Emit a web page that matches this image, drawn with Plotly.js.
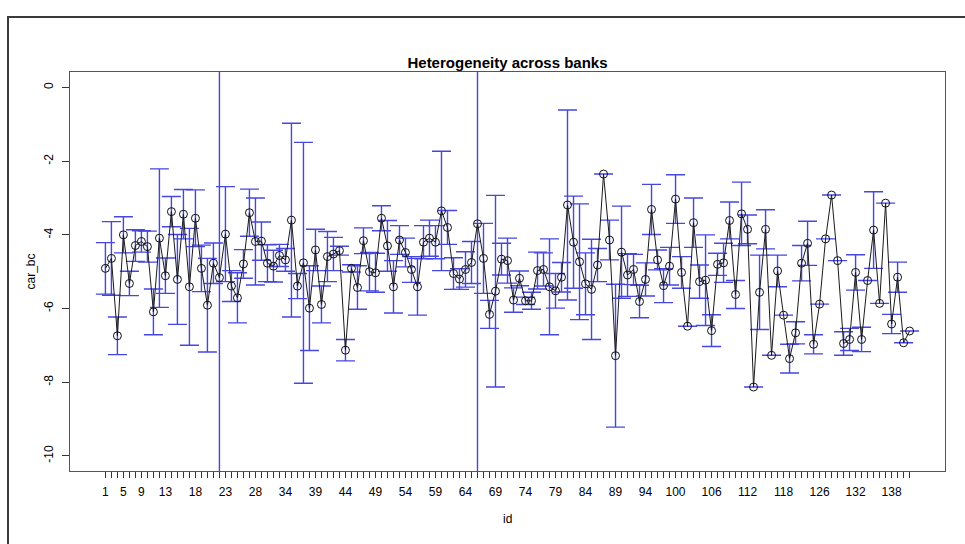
<!DOCTYPE html>
<html>
<head>
<meta charset="utf-8">
<script src="https://cdn.plot.ly/plotly-3.0.1.min.js"></script>
<style>
  html, body { margin: 0; padding: 0; background: #fff; }
  #chart { width: 965px; height: 544px; position: absolute; left: 0; top: 0; }
  #frame { position: absolute; left: 7px; top: 16px; width: 970px; height: 540px; border: 2px solid #3a3a3a; pointer-events: none; box-sizing: border-box; }
</style>
</head>
<body>
<div id="chart"></div>
<div id="frame"></div>
<script>
// bank ids (categories, in plotting order)
const ids = [1,2,3,5,6,7,9,
  10,11,12,13,14,15,16,17,18,19,20,21,22,23,24,25,26,27,28,
  29,30,32,33,34,
  35,36,37,38,39,40,41,42,43,44,45,46,47,48,49,50,51,52,53,54,55,56,57,58,59,60,
  61,62,63,64,65,66,67,68,69,70,71,72,73,74,75,76,77,78,79,80,81,82,83,84,85,86,87,88,89,90,91,92,93,94,
  95,96,98,99,100,
  101,102,103,104,105,106,107,108,109,110,111,112,113,114,115,116,117,118,
  119,120,122,124,125,126,
  127,128,129,130,131,132,133,134,135,136,137,138,139,140,141];

// group means of car_bc
const means = [
  -4.91,-4.64,-6.74,-4.00,-5.32,-4.29,-4.18,-4.32,-6.09,-4.09,
  -5.11,-3.37,-5.21,-3.44,-5.41,-3.55,-4.91,-5.91,-4.77,-5.16,
  -3.98,-5.39,-5.71,-4.79,-3.40,-4.18,-4.17,-4.77,-4.85,-4.56,
  -4.68,-3.60,-5.39,-4.76,-5.99,-4.41,-5.89,-4.59,-4.52,-4.43,
  -7.13,-4.91,-5.43,-4.16,-5.00,-5.03,-3.55,-4.30,-5.41,-4.14,
  -4.48,-4.94,-5.41,-4.20,-4.09,-4.20,-3.35,-3.80,-5.05,-5.20,
  -4.94,-4.75,-3.70,-4.64,-6.16,-5.53,-4.66,-4.70,-5.77,-5.18,
  -5.79,-5.79,-4.97,-4.94,-5.41,-5.52,-5.15,-3.19,-4.20,-4.73,
  -5.33,-5.48,-4.82,-2.35,-4.14,-7.28,-4.47,-5.09,-4.94,-5.81,
  -5.21,-3.31,-4.68,-5.38,-4.85,-3.03,-5.02,-6.48,-3.67,-5.27,
  -5.23,-6.60,-4.80,-4.76,-3.61,-5.62,-3.43,-3.85,-8.13,-5.56,
  -3.85,-7.27,-4.98,-6.18,-7.36,-6.66,-4.77,-4.23,-6.97,-5.88,
  -4.11,-2.92,-4.70,-6.95,-6.84,-5.02,-6.84,-5.24,-3.87,-5.86,
  -3.14,-6.42,-5.15,-6.93,-6.61];

// half-width of the 95% confidence interval (null = not drawn, 99 = unbounded)
const ciHalf = [
  0.70,1.00,0.51,0.49,0.33,0.43,0.29,0.42,0.62,1.88,
  0.48,0.41,1.22,0.67,1.585,0.77,0.63,1.27,0.55,99,
  1.29,0.42,0.68,0.39,0.64,1.18,0.52,0.50,0.43,0.30,
  0.31,2.63,0.34,3.27,1.15,0.56,0.50,0.68,0.45,0.12,
  0.29,0.10,0.59,0.35,0.52,0.53,0.34,0.69,0.71,0.39,
  0.39,0.35,0.77,0.45,0.49,0.45,1.62,0.46,0.43,0.28,
  0.48,0.57,99,0.95,0.38,2.60,0.43,0.61,0.33,0.20,
  0.10,0.23,0.50,0.45,1.30,0.47,0.40,2.58,1.25,1.57,
  0.84,1.36,0.45,null,0.54,1.94,1.25,0.58,0.41,0.44,
  0.45,0.68,0.27,0.46,0.51,0.66,0.43,null,0.67,0.45,
  1.23,0.43,0.30,0.53,0.50,0.38,0.86,0.39,null,1.01,
  0.53,null,0.43,null,0.39,0.30,0.48,0.60,0.26,null,
  null,null,null,0.32,0.30,0.48,0.33,null,1.04,null,
  null,0.26,0.41,null,null];

// x tick labels that R managed to fit
const shownLabels = [1,5,9,13,18,23,28,34,39,44,49,54,59,64,69,74,79,84,89,94,100,106,112,118,126,132,138];
const yTicks = [0,-2,-4,-6,-8,-10];

const cats = ids.map(String);
const tickText = ids.map(v => shownLabels.includes(v) ? String(v) : '');

const trace = {
  type: 'scatter',
  mode: 'lines+markers',
  x: cats,
  y: means,
  line: { color: '#1a1a1a', width: 1 },
  marker: { symbol: 'circle-open', size: 8, color: '#111', line: { width: 1, color: '#111' } },
  error_y: { type: 'data', array: ciHalf, visible: true, color: 'rgb(70,70,225)', thickness: 1.4, width: 9.5 },
  hoverinfo: 'x+y'
};

const font = 'Liberation Sans, Arial, Helvetica, sans-serif';

const layout = {
  width: 965, height: 544,
  margin: { l: 70, r: 20, t: 72, b: 73 },
  paper_bgcolor: '#fff', plot_bgcolor: '#fff',
  showlegend: false,
  font: { family: font, size: 12, color: '#000' },
  title: { text: '<b>Heterogeneity across banks</b>', x: 0.5, xref: 'paper', y: 1 - 63/544, yref: 'container', yanchor: 'middle', font: { family: font, size: 15, color: '#000' } },
  xaxis: {
    type: 'category',
    categoryorder: 'array', categoryarray: cats,
    range: [-5.9, 139.9],
    tickmode: 'array', tickvals: cats, ticktext: tickText,
    ticks: 'outside', ticklen: 6, tickcolor: '#333', tickwidth: 1,
    showgrid: false, zeroline: false,
    showline: true, linecolor: '#555', linewidth: 1, mirror: true,
    tickfont: { family: font, size: 12, color: '#000' },
    tickangle: 0,
    ticklabelstandoff: 4,
    fixedrange: true
  },
  yaxis: {
    range: [-10.41, 0.42],
    tickmode: 'array', tickvals: yTicks, ticktext: yTicks.map(String),
    ticks: 'outside', ticklen: 7, tickcolor: '#333', tickwidth: 1,
    tickangle: -90,
    ticklabelstandoff: 4,
    showgrid: false, zeroline: false,
    showline: true, linecolor: '#555', linewidth: 1, mirror: true,
    tickfont: { family: font, size: 12, color: '#000' },
    fixedrange: true
  },
  annotations: [
    { text: 'id', xref: 'paper', yref: 'paper', x: 0.5, y: (471 - 519) / 399, xanchor: 'center', yanchor: 'middle', showarrow: false, font: { family: font, size: 12, color: '#000' } },
    { text: 'car_bc', xref: 'paper', yref: 'paper', x: (30 - 70) / 875, y: 0.5, xanchor: 'center', yanchor: 'middle', textangle: -90, showarrow: false, font: { family: font, size: 12, color: '#000' } }
  ]
};

Plotly.newPlot('chart', [trace], layout, { displayModeBar: false, staticPlot: true });
</script>
</body>
</html>
